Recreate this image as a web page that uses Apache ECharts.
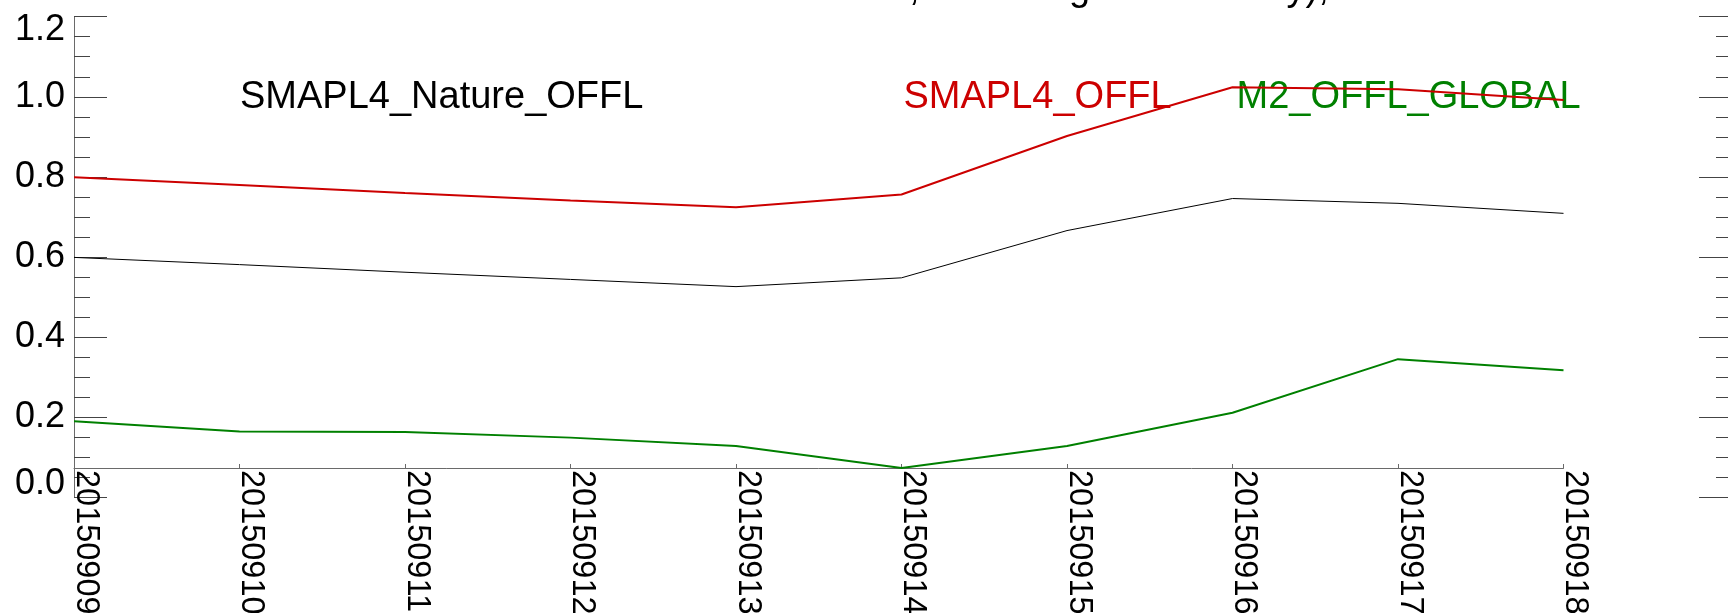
<!DOCTYPE html>
<html>
<head>
<meta charset="utf-8">
<script src="https://cdn.jsdelivr.net/npm/echarts@6/dist/echarts.min.js"></script>
<style>
  html, body { margin: 0; padding: 0; background: #fff; }
  #chart { width: 1728px; height: 613px; }
</style>
</head>
<body>
<div id="chart"></div>
<script>
// ---- data ----
const categories = ['20150909', '20150910', '20150911', '20150912', '20150913',
                    '20150914', '20150915', '20150916', '20150917', '20150918'];
const natureValues = [0.599, 0.581, 0.562, 0.544, 0.526, 0.548, 0.666, 0.746, 0.734, 0.709];
const smapValues   = [0.799, 0.780, 0.760, 0.741, 0.724, 0.756, 0.902, 1.024, 1.019, 0.992];
const m2Values     = [0.190, 0.164, 0.163, 0.149, 0.128, 0.073, 0.128, 0.211, 0.345, 0.317];
const seriesNames  = ['SMAPL4_Nature_OFFL', 'SMAPL4_OFFL', 'M2_OFFL_GLOBAL'];
const seriesColors = ['#000000', '#cc0000', '#008000'];
const yMin = 0.0, yMax = 1.2, yStep = 0.2;
const titleText = 'SMAPL4 vs M2 Soil Moisture, Land Avg Global Daily),';

// ---- chart ----
const FONT = "'Liberation Sans', Arial, Helvetica, sans-serif";
const chart = echarts.init(document.getElementById('chart'), null, { renderer: 'canvas' });

const axisGray = '#6a6a6a';

const yAxisCommon = {
  type: 'value', min: yMin, max: yMax, interval: yStep,
  splitLine: { show: false },
  axisLine: { show: true, lineStyle: { color: axisGray, width: 1 } },
  axisTick: { show: true, inside: true, length: 33, lineStyle: { color: '#444', width: 1 } },
  minorTick: { show: true, splitNumber: 4, length: 16, lineStyle: { color: '#444', width: 1 } },
  minorSplitLine: { show: false }
};

const option = {
  animation: false,
  backgroundColor: '#ffffff',
  grid: [
    { left: 74, right: 164.5, top: 16.7, bottom: 115.7, containLabel: false, outerBoundsMode: 'none' },
    { left: 74, right: 164.5, top: 16.7, bottom: 145, containLabel: false, outerBoundsMode: 'none' }
  ],
  xAxis: [
    { type: 'category', gridIndex: 0, data: categories, boundaryGap: false, show: false },
    {
      type: 'category', gridIndex: 1, data: categories, boundaryGap: false,
      axisLine: { show: true, lineStyle: { color: axisGray, width: 1 } },
      axisTick: { show: true, inside: true, length: 4, lineStyle: { color: axisGray } },
      splitLine: { show: false },
      axisLabel: {
        show: true, interval: 0, rotate: -90, margin: 2,
        align: 'left', verticalAlign: 'bottom', lineHeight: 23,
        fontFamily: FONT, fontSize: 32.5, color: '#000'
      }
    }
  ],
  yAxis: [
    Object.assign({}, yAxisCommon, {
      gridIndex: 0, position: 'left',
      axisLabel: {
        show: true, margin: 9, fontFamily: FONT, fontSize: 36, color: '#000',
        lineHeight: 26,
        formatter: v => v.toFixed(1),
        verticalAlignMinLabel: 'bottom', verticalAlignMaxLabel: 'top'
      }
    }),
    Object.assign({}, yAxisCommon, {
      gridIndex: 0, position: 'right', offset: 168.5,
      axisLabel: { show: false }
    }),
    { type: 'value', gridIndex: 1, show: false, min: 0, max: 1 }
  ],
  graphic: [
    {
      type: 'text', x: 417, y: -10, z: 0,
      style: { text: titleText, fill: '#000', font: '38px ' + FONT, verticalAlign: 'middle' }
    },
    {
      type: 'text', x: 240, y: 97.3, z: 0,
      style: { text: seriesNames[0], fill: seriesColors[0], font: '38px ' + FONT, verticalAlign: 'middle' }
    },
    {
      type: 'text', x: 903.5, y: 97.3, z: 0,
      style: { text: seriesNames[1], fill: seriesColors[1], font: '38px ' + FONT, verticalAlign: 'middle' }
    },
    {
      type: 'text', x: 1236.5, y: 97.3, z: 0,
      style: { text: seriesNames[2], fill: seriesColors[2], font: '38px ' + FONT, verticalAlign: 'middle' }
    }
  ],
  series: [
    { name: seriesNames[0], type: 'line', xAxisIndex: 0, yAxisIndex: 0, data: natureValues,
      symbol: 'none', smooth: false, z: 5, lineStyle: { color: seriesColors[0], width: 1 } },
    { name: seriesNames[1], type: 'line', xAxisIndex: 0, yAxisIndex: 0, data: smapValues,
      symbol: 'none', smooth: false, z: 5, lineStyle: { color: seriesColors[1], width: 2 } },
    { name: seriesNames[2], type: 'line', xAxisIndex: 0, yAxisIndex: 0, data: m2Values,
      symbol: 'none', smooth: false, z: 5, lineStyle: { color: seriesColors[2], width: 2 } }
  ]
};
chart.setOption(option);
</script>
</body>
</html>
